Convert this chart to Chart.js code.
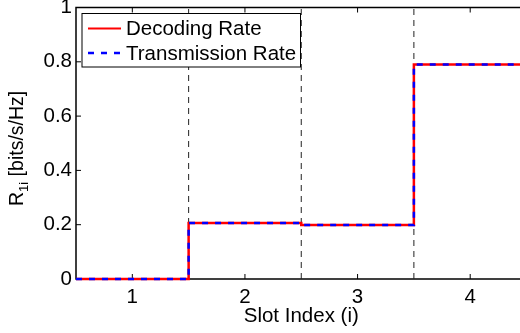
<!DOCTYPE html>
<html>
<head>
<meta charset="utf-8">
<script src="https://cdn.jsdelivr.net/npm/chart.js@4.4.0/dist/chart.umd.min.js"></script>
<style>
  html, body { margin: 0; padding: 0; overflow: hidden; background: #fff; }
  #wrap { width: 530px; height: 333px; }
</style>
</head>
<body>
<div id="wrap"><canvas id="myChart" width="530" height="333"></canvas></div>
<script>
const slots = [1, 2, 3, 4];
const decodingRate = [0, 0.206, 0.199, 0.79];
const transmissionRate = [0, 0.206, 0.199, 0.79];
const slotBounds = [1.5, 2.5, 3.5];
const xTicks = [1, 2, 3, 4];
const yTicks = [0, 0.2, 0.4, 0.6, 0.8, 1];
const seriesNames = ["Decoding Rate", "Transmission Rate"];

const FONT = '"Liberation Sans", Arial, sans-serif';
Chart.defaults.font.family = FONT;
Chart.defaults.font.size = 20.5;
Chart.defaults.color = "#000";

// each slot is a flat step from i-0.5 to i+0.5
function stepPoints(values) {
  const pts = [];
  for (let i = 0; i < slots.length; i++) {
    pts.push({ x: slots[i] - 0.5, y: values[i] });
    pts.push({ x: slots[i] + 0.5, y: values[i] });
  }
  return pts;
}

const boundSets = slotBounds.map(function (b) {
  return {
    data: [{ x: b, y: 0 }, { x: b, y: 1 }],
    borderColor: "#222",
    borderWidth: 1,
    borderDash: [6, 5],
    pointRadius: 0,
    order: 3,
  };
});

const boxAxes = {
  id: "boxAxes",
  beforeDatasetsDraw(chart) {
    const { ctx, chartArea: a, scales } = chart;
    ctx.save();
    ctx.strokeStyle = "#000";
    ctx.lineWidth = 1.5;
    ctx.strokeRect(a.left, a.top, a.right - a.left, a.bottom - a.top);
    ctx.lineWidth = 1;
    ctx.beginPath();
    for (const t of xTicks) {
      const px = scales.x.getPixelForValue(t);
      ctx.moveTo(px, a.bottom); ctx.lineTo(px, a.bottom - 5);
      ctx.moveTo(px, a.top); ctx.lineTo(px, a.top + 5);
    }
    for (const t of yTicks) {
      const py = scales.y.getPixelForValue(t);
      ctx.moveTo(a.left, py); ctx.lineTo(a.left + 5, py);
      ctx.moveTo(a.right, py); ctx.lineTo(a.right - 5, py);
    }
    ctx.stroke();
    ctx.restore();
  },
  afterDraw(chart) {
    const ctx = chart.ctx;
    const a = chart.chartArea;
    // legend box
    ctx.save();
    const lx = a.left + 6, ly = a.top + 6, lw = 218.5, lh = 53.5;
    ctx.fillStyle = "#fff";
    ctx.fillRect(lx, ly, lw, lh);
    ctx.strokeStyle = "#000";
    ctx.lineWidth = 1;
    ctx.strokeRect(lx, ly, lw, lh);
    ctx.font = "20.5px " + FONT;
    ctx.fillStyle = "#000";
    ctx.textBaseline = "middle";
    const rows = [
      { y: ly + 15, color: "#ff0000", dash: [], width: 2 },
      { y: ly + 39.5, color: "#0000ff", dash: [6, 7], width: 2.5 },
    ];
    rows.forEach(function (r, i) {
      ctx.beginPath();
      ctx.setLineDash(r.dash);
      ctx.strokeStyle = r.color;
      ctx.lineWidth = r.width;
      ctx.moveTo(lx + 6, r.y);
      ctx.lineTo(lx + 39, r.y);
      ctx.stroke();
      ctx.setLineDash([]);
      ctx.fillText(seriesNames[i], lx + 44, r.y + 1);
    });
    ctx.restore();

    // y axis title with subscript
    ctx.save();
    ctx.translate(23, 206);
    ctx.rotate(-Math.PI / 2);
    ctx.fillStyle = "#000";
    ctx.textBaseline = "alphabetic";
    ctx.font = "19.5px " + FONT;
    ctx.fillText("R", 0, 0);
    let u = ctx.measureText("R").width;
    ctx.font = "13px " + FONT;
    ctx.fillText("1i", u, 5);
    u += ctx.measureText("1i").width;
    ctx.font = "19.5px " + FONT;
    ctx.fillText(" [bits/s/Hz]", u, 0);
    ctx.restore();
  },
};

const ctx = document.getElementById("myChart");
const myChart = new Chart(ctx, {
  type: "line",
  data: {
    datasets: [
      {
        label: seriesNames[1],
        data: stepPoints(transmissionRate),
        borderColor: "#0000ff",
        borderWidth: 2.5,
        borderDash: [6, 7],
        pointRadius: 0,
        clip: false,
        order: 1,
      },
      {
        label: seriesNames[0],
        data: stepPoints(decodingRate),
        borderColor: "#ff0000",
        borderWidth: 2.5,
        pointRadius: 0,
        clip: false,
        order: 2,
      },
    ].concat(boundSets),
  },
  options: {
    responsive: false,
    animation: false,
    events: [],
    layout: { padding: { top: 7.5, right: 3.5, left: 0, bottom: 0 } },
    plugins: {
      legend: { display: false },
      tooltip: { enabled: false },
    },
    scales: {
      x: {
        type: "linear",
        min: 0.5,
        max: 4.5,
        afterBuildTicks: function (scale) {
          scale.ticks = xTicks.map(function (v) { return { value: v }; });
        },
        afterFit: function (scale) {
          scale.height = 54;
          scale.paddingLeft = 0;
          scale.paddingRight = 0;
        },
        grid: { display: false, drawTicks: false, tickLength: 0 },
        border: { display: false },
        ticks: { padding: 6, maxRotation: 0 },
        title: {
          display: true,
          text: "Slot Index (i)",
          padding: { top: 0, bottom: 4 },
        },
      },
      y: {
        min: 0,
        max: 1,
        afterBuildTicks: function (scale) {
          scale.ticks = yTicks.map(function (v) { return { value: v }; });
        },
        afterFit: function (scale) {
          scale.width = 76;
          scale.paddingTop = 0;
          scale.paddingBottom = 0;
        },
        grid: { display: false, drawTicks: false, tickLength: 0 },
        border: { display: false },
        ticks: {
          padding: 4,
          callback: function (v) { return String(v); },
        },
      },
    },
  },
  plugins: [boxAxes],
});
</script>
</body>
</html>
